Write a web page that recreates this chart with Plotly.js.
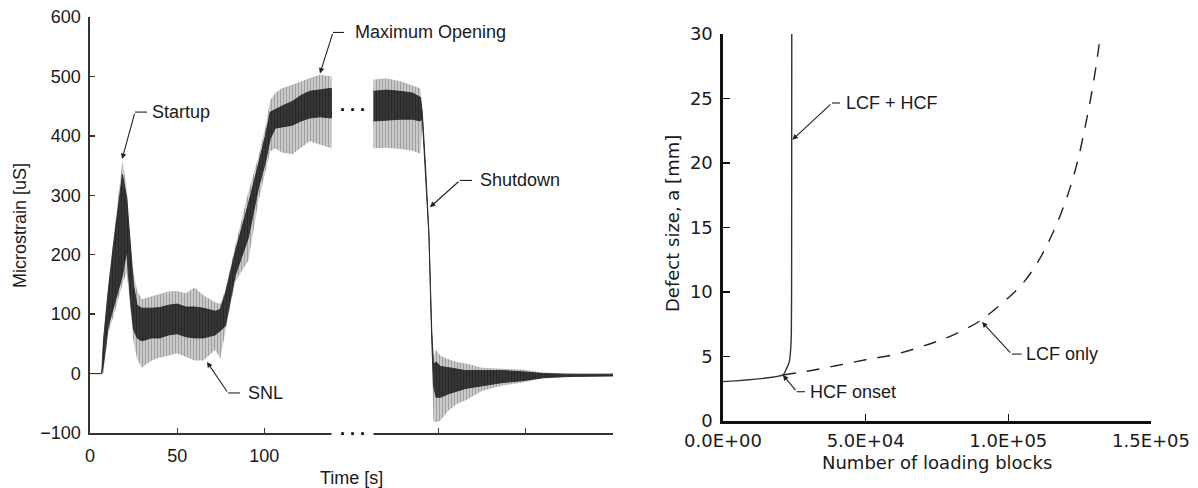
<!DOCTYPE html>
<html>
<head>
<meta charset="utf-8">
<script src="https://cdn.plot.ly/plotly-3.0.1.min.js"></script>
<style>html,body{margin:0;padding:0;background:#fff;}#chart{width:1198px;height:488px;}</style>
</head>
<body>
<div id="chart"></div>
<script>
// ---- Left panel: strain record (envelopes) ----
// block before the time break
const timeA       = [0, 6.7, 7.7, 10.5, 13.4, 16.3, 18.6, 21.1, 23, 24.9, 27, 29.7, 35.4, 40, 45, 50, 55, 60, 65, 71.8, 74.7, 77.6, 83.3, 90.8, 96.6, 100.6, 103.4, 106.3, 110, 116, 121, 126, 132, 138.5];
const outerHighA  = [0, 0, 60, 150, 225, 295, 360, 310, 230, 170, 140, 125, 130, 134, 138, 139, 135, 145, 132, 120, 117, 140, 215, 305, 365, 415, 460, 472, 480, 486, 492, 497, 503, 500];
const innerHighA  = [0, 0, 55, 140, 215, 285, 335, 295, 220, 150, 115, 110, 110, 111, 115, 117, 112, 112, 110, 105, 108, 134, 205, 285, 352, 400, 440, 445, 450, 458, 468, 475, 478, 480];
const innerLowA   = [0, 0, 15, 80, 110, 140, 165, 206, 130, 75, 60, 55, 60, 60, 65, 67, 62, 60, 60, 65, 72, 80, 165, 228, 312, 355, 395, 413, 415, 418, 425, 430, 432, 430];
const outerLowA   = [0, 0, 0, 70, 95, 125, 150, 170, 115, 55, 25, 10, 22, 27, 30, 34, 28, 22, 22, 40, 25, 70, 155, 190, 290, 340, 374, 379, 372, 369, 380, 391, 385, 379];
// block after the time break
const timeB       = [162.6, 170, 178, 185, 189.5, 190.6, 192.5, 194.4, 196, 197, 198.5, 201, 205.7, 210, 215.5, 225, 236.8, 248, 260, 273, 285, 300];
const outerHighB  = [495, 497, 492, 485, 480, 445, 352, 240, 80, 30, 40, 30, 24, 20, 17, 10, 8, 7, 2, 0, -1, 0];
const innerHighB  = [475, 477, 475, 472, 465, 440, 348, 237, 75, 15, 20, 12, 10, 8, 5, 5, 5, 3, 0, -1, -1, -1];
const innerLowB   = [425, 427, 428, 428, 425, 430, 342, 232, 60, -20, -40, -40, -34, -30, -25, -20, -15, -12, -7, -5, -4, -4];
const outerLowB   = [379, 380, 378, 375, 370, 420, 338, 228, 40, -80, -82, -79, -62, -52, -45, -29, -20, -15, -8, -7, -5, -5];
const timeTicks   = [0, 50, 100, 150, 200, 250, 300];
const timeTickText= ['0', '50', '100', '', '', '', ''];

// ---- Right panel: crack growth ----
const blocksLcfHcf = [0, 21000, 22300, 23250, 23700, 23950, 24050, 24100];
const defectLcfHcf = [3.05, 3.57, 4.08, 4.6, 5.5, 6.8, 12, 30];
const blocksLcf    = [21000, 30000, 40000, 50000, 60000, 70000, 80000, 90000, 95000, 100000, 105000, 110000, 115000, 120000, 124000, 127000, 129500, 131200, 132300];
const defectLcf    = [3.57, 3.88, 4.3, 4.75, 5.15, 5.8, 6.6, 7.75, 8.6, 9.55, 10.65, 12.2, 14.3, 17.0, 19.9, 22.9, 25.8, 28.2, 30];
const blockTicks   = [0, 50000, 100000, 150000];
const blockTickText= ['0.0E+00', '5.0E+04', '1.0E+05', '1.5E+05'];

function band(t, hi, lo) {
  return { x: t.concat(t.slice().reverse()), y: hi.concat(lo.slice().reverse()) };
}
function outerTrace(t, hi, lo) {
  const b = band(t, hi, lo);
  return { type: 'scatter', mode: 'lines', x: b.x, y: b.y, xaxis: 'x', yaxis: 'y',
    fill: 'toself', fillcolor: '#cfcfcf',
    fillpattern: { shape: '|', fgcolor: '#707070', size: 3, solidity: 0.4, fillmode: 'overlay' },
    line: { width: 0, color: 'rgba(0,0,0,0)' }, hoverinfo: 'skip' };
}
function innerTrace(t, hi, lo) {
  const b = band(t, hi, lo);
  return { type: 'scatter', mode: 'lines', x: b.x, y: b.y, xaxis: 'x', yaxis: 'y',
    fill: 'toself', fillcolor: '#3c3c3c',
    fillpattern: { shape: '|', fgcolor: '#141414', size: 3, solidity: 0.55, fillmode: 'overlay' },
    line: { width: 0.9, color: '#2a2a2a' }, hoverinfo: 'skip' };
}

const data = [
  outerTrace(timeA, outerHighA, outerLowA),
  innerTrace(timeA, innerHighA, innerLowA),
  outerTrace(timeB, outerHighB, outerLowB),
  innerTrace(timeB, innerHighB, innerLowB),
  { type: 'scatter', mode: 'lines', x: blocksLcfHcf, y: defectLcfHcf, xaxis: 'x2', yaxis: 'y2',
    line: { color: '#333', width: 1.4, shape: 'spline', smoothing: 0.6 } },
  { type: 'scatter', mode: 'lines', x: blocksLcf, y: defectLcf, xaxis: 'x2', yaxis: 'y2',
    line: { color: '#222', width: 1.4, dash: '13px,11px', shape: 'spline', smoothing: 1 } }
];

const W = 1198, H = 488;
const fontL = { family: 'Liberation Sans, Arial, sans-serif', size: 18, color: '#1a1a1a' };
const fontR = { family: 'DejaVu Sans, sans-serif', size: 18, color: '#1a1a1a' };

const layout = {
  width: W, height: H, margin: { l: 0, r: 0, t: 0, b: 0 },
  paper_bgcolor: '#ffffff', plot_bgcolor: 'rgba(0,0,0,0)', showlegend: false,
  xaxis: { domain: [90 / W, 613 / W], range: [0, 300], anchor: 'y',
    tickmode: 'array', tickvals: timeTicks, ticktext: timeTickText,
    ticks: 'inside', ticklen: 5, tickwidth: 1.3, tickcolor: '#333',
    showline: true, linecolor: '#333', linewidth: 1.6, showgrid: false, zeroline: false,
    tickfont: fontL, ticklabelstandoff: 6 },
  yaxis: { domain: [(H - 433) / H, (H - 17) / H], range: [-100, 600], anchor: 'x', dtick: 100,
    ticks: 'inside', ticklen: 5, tickwidth: 1.3, tickcolor: '#333',
    showline: true, linecolor: '#333', linewidth: 1.6, showgrid: false, zeroline: false,
    tickfont: fontL, ticklabelstandoff: 4 },
  xaxis2: { domain: [723 / W, 1151 / W], range: [0, 150000], anchor: 'y2',
    tickmode: 'array', tickvals: blockTicks, ticktext: blockTickText,
    ticks: 'inside', ticklen: 7, tickwidth: 1.5, tickcolor: '#111',
    showline: true, linecolor: '#111', linewidth: 2.6, showgrid: false, zeroline: false,
    tickfont: fontR, ticklabelstandoff: 2 },
  yaxis2: { domain: [(H - 421) / H, (H - 34) / H], range: [0, 30], anchor: 'x2', dtick: 5,
    ticks: 'inside', ticklen: 7, tickwidth: 1.5, tickcolor: '#111',
    showline: true, linecolor: '#111', linewidth: 2.6, showgrid: false, zeroline: false,
    tickfont: fontR, ticklabelstandoff: 4 },
  shapes: [
    // break in the time axis
    { type: 'rect', xref: 'x', yref: 'paper', x0: 138.5, x1: 162.6, y0: 0.06, y1: 0.14,
      fillcolor: '#ffffff', line: { width: 0 }, layer: 'above' },
    // leader elbows
    { type: 'line', xref: 'x', yref: 'y', x0: 25.8, x1: 32.7, y0: 440, y1: 440, line: { color: '#222', width: 1.1 } },
    { type: 'line', xref: 'x', yref: 'y', x0: 139.4, x1: 145.7, y0: 574, y1: 574, line: { color: '#222', width: 1.1 } },
    { type: 'line', xref: 'x', yref: 'y', x0: 212.2, x1: 219.1, y0: 325, y1: 325, line: { color: '#222', width: 1.1 } },
    { type: 'line', xref: 'x', yref: 'y', x0: 79.2, x1: 86, y0: -32.6, y1: -32.6, line: { color: '#222', width: 1.1 } },
    { type: 'line', xref: 'x2', yref: 'y2', x0: 38200, x1: 41000, y0: 24.65, y1: 24.65, line: { color: '#222', width: 1.1 } },
    { type: 'line', xref: 'x2', yref: 'y2', x0: 25830, x1: 28740, y0: 2.27, y1: 2.27, line: { color: '#222', width: 1.1 } },
    { type: 'line', xref: 'x2', yref: 'y2', x0: 101180, x1: 104690, y0: 5.19, y1: 5.19, line: { color: '#222', width: 1.1 } }
  ],
  annotations: []
};

function arrow(xref, yref, x, y, ax, ay) {
  return { xref: xref, yref: yref, axref: xref, ayref: yref, x: x, y: y, ax: ax, ay: ay, text: '',
    showarrow: true, arrowhead: 2, arrowsize: 1, arrowwidth: 1.1, arrowcolor: '#222', standoff: 0, startstandoff: 0 };
}
function label(xref, yref, x, y, text, font) {
  return { xref: xref, yref: yref, x: x, y: y, text: text, showarrow: false, xanchor: 'left', yanchor: 'middle', font: font };
}
layout.annotations.push(
  arrow('x', 'y', 18.4, 361, 25.8, 440), label('x', 'y', 34.4, 440, 'Startup', fontL),
  arrow('x', 'y', 131.9, 505, 139.4, 574), label('x', 'y', 150.9, 574, 'Maximum Opening', fontL),
  arrow('x', 'y', 195, 280, 212.2, 325), label('x', 'y', 222.6, 325, 'Shutdown', fontL),
  arrow('x', 'y', 67.1, 19.5, 79.2, -32.6), label('x', 'y', 89.5, -32.6, 'SNL', fontL),
  arrow('x2', 'y2', 24300, 21.8, 38200, 24.65), label('x2', 'y2', 42400, 24.65, 'LCF + HCF', fontL),
  arrow('x2', 'y2', 21000, 3.57, 25830, 2.27), label('x2', 'y2', 29790, 2.27, 'HCF onset', fontL),
  arrow('x2', 'y2', 90770, 7.67, 101180, 5.19), label('x2', 'y2', 105490, 5.19, 'LCF only', fontL),
  // break marks
  { xref: 'x', yref: 'y', x: 150.5, y: 452, text: '<b>. . .</b>', showarrow: false, font: { family: 'Liberation Sans, Arial', size: 18, color: '#000' } },
  { xref: 'x', yref: 'y', x: 150.5, y: -93, text: '<b>. . .</b>', showarrow: false, font: { family: 'Liberation Sans, Arial', size: 18, color: '#000' } },
  // axis titles
  { xref: 'paper', yref: 'paper', x: 20 / W, y: 1 - 226 / H, text: 'Microstrain [uS]', textangle: -90, showarrow: false,
    xanchor: 'center', yanchor: 'middle', font: fontL },
  { xref: 'paper', yref: 'paper', x: 351.5 / W, y: 1 - 478 / H, text: 'Time [s]', showarrow: false,
    xanchor: 'center', yanchor: 'middle', font: fontL },
  { xref: 'paper', yref: 'paper', x: 672 / W, y: 1 - 224 / H, text: 'Defect size, a [mm]', textangle: -90, showarrow: false,
    xanchor: 'center', yanchor: 'middle', font: fontR },
  { xref: 'paper', yref: 'paper', x: 936.5 / W, y: 1 - 462 / H, text: 'Number of loading blocks', showarrow: false,
    xanchor: 'center', yanchor: 'middle', font: fontR }
);

Plotly.newPlot('chart', data, layout, { staticPlot: true, displayModeBar: false });
</script>
</body>
</html>
